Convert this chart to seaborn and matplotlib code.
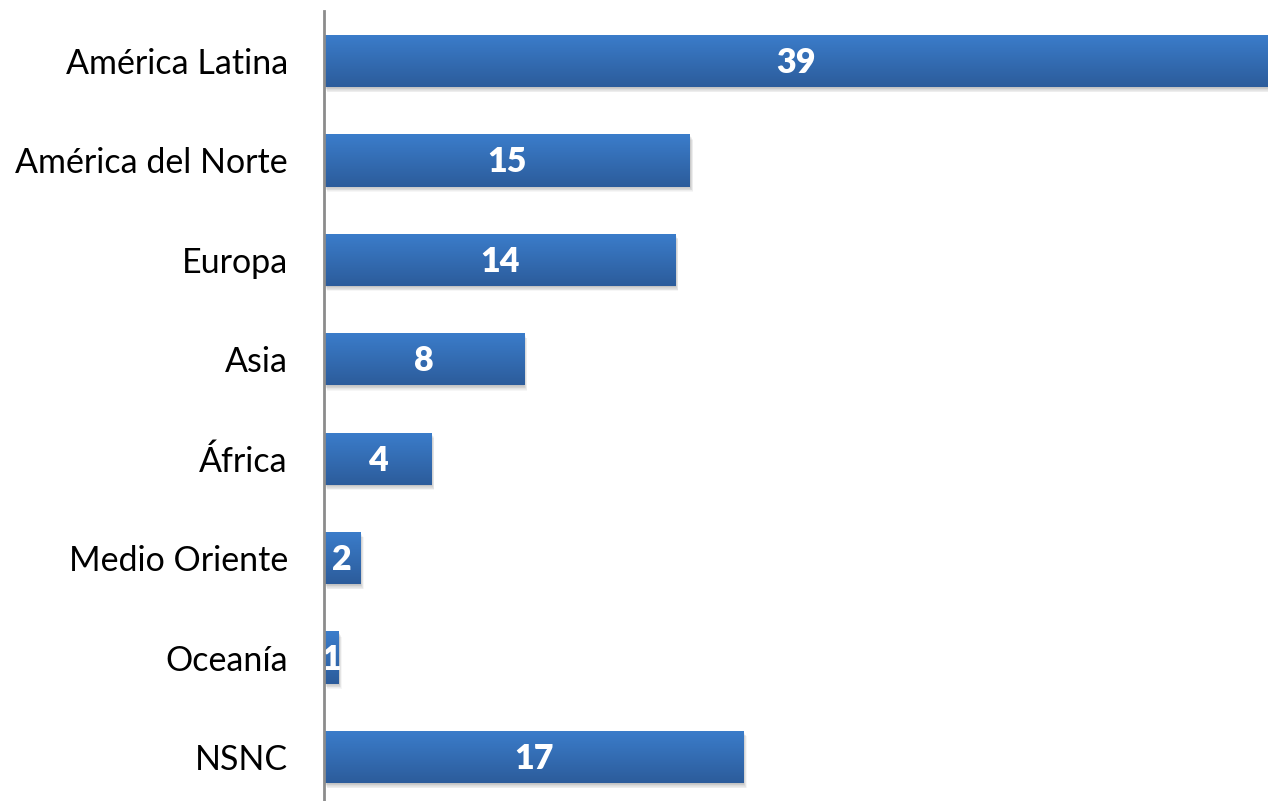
import numpy as np
import pandas as pd
import matplotlib
matplotlib.use("Agg")
import matplotlib.pyplot as plt
import matplotlib.transforms as mtransforms
from matplotlib.patches import Rectangle
import seaborn as sns

regions = ["América Latina", "América del Norte", "Europa", "Asia", "África",
           "Medio Oriente", "Oceanía", "NSNC"]
values = [38.7, 15.0, 14.4, 8.2, 4.4, 1.5, 0.6, 17.2]
labels = [f"{v:.0f}" for v in values]

df = pd.DataFrame({"region": regions, "value": values})

sns.set_theme(style="white")
plt.rcParams["font.family"] = ["Lato", "DejaVu Sans"]

W, H = 1268, 801
fig = plt.figure(figsize=(W / 100, H / 100), dpi=100)
left_px, top_px = 324, 11
ax = fig.add_axes([left_px / W, 0, 1 - left_px / W, 1 - top_px / H])

sns.barplot(data=df, y="region", x="value", orient="h", color="#3672bd",
            width=0.525, ax=ax, saturation=1, zorder=3)

ax.set_xlim(0, values[0])
ax.set_ylim(7 + 0.443, -0.503)

# gradient + shadow on bars
grad = np.linspace(0, 1, 256).reshape(-1, 1)
top_c = np.array([0x3b, 0x7d, 0xcb]) / 255
bot_c = np.array([0x2c, 0x5c, 0x9b]) / 255
img = top_c[None, None, :] * (1 - grad[:, :, None]) + bot_c[None, None, :] * grad[:, :, None]

for p in list(ax.patches):
    x0, y0 = p.get_x(), p.get_y()
    w, h = p.get_width(), p.get_height()
    p.set_edgecolor("none")
    # shadow layers
    for i in range(1, 8):
        tr = mtransforms.offset_copy(ax.transData, fig=fig, x=i * 0.45, y=-i * 0.75, units="dots")
        sh = Rectangle((x0, y0), w, h, facecolor="black", alpha=0.035, edgecolor="none",
                       transform=tr, zorder=2, clip_on=False)
        ax.add_patch(sh)
    im = ax.imshow(img, extent=(x0, x0 + w, y0 + h, y0), aspect="auto", zorder=4,
                   interpolation="bilinear")
    im.set_clip_path(p)

ax.set_xlim(0, values[0])
ax.set_ylim(7 + 0.443, -0.503)

for i, (v, lab) in enumerate(zip(values, labels)):
    ax.text(v / 2, i + 0.02, lab, ha="center", va="center", color="white",
            fontsize=24.5, fontweight="heavy", zorder=5)

ax.set_xlabel("")
ax.set_ylabel("")
ax.set_xticks([])
ax.tick_params(axis="y", length=0, pad=26, labelsize=24.5, labelcolor="#000000")
for s in ["top", "right", "bottom"]:
    ax.spines[s].set_visible(False)
ax.spines["left"].set_color("#8c8c8c")
ax.spines["left"].set_linewidth(2)
ax.spines["left"].set_zorder(6)

fig.savefig("out.png", dpi=100)
